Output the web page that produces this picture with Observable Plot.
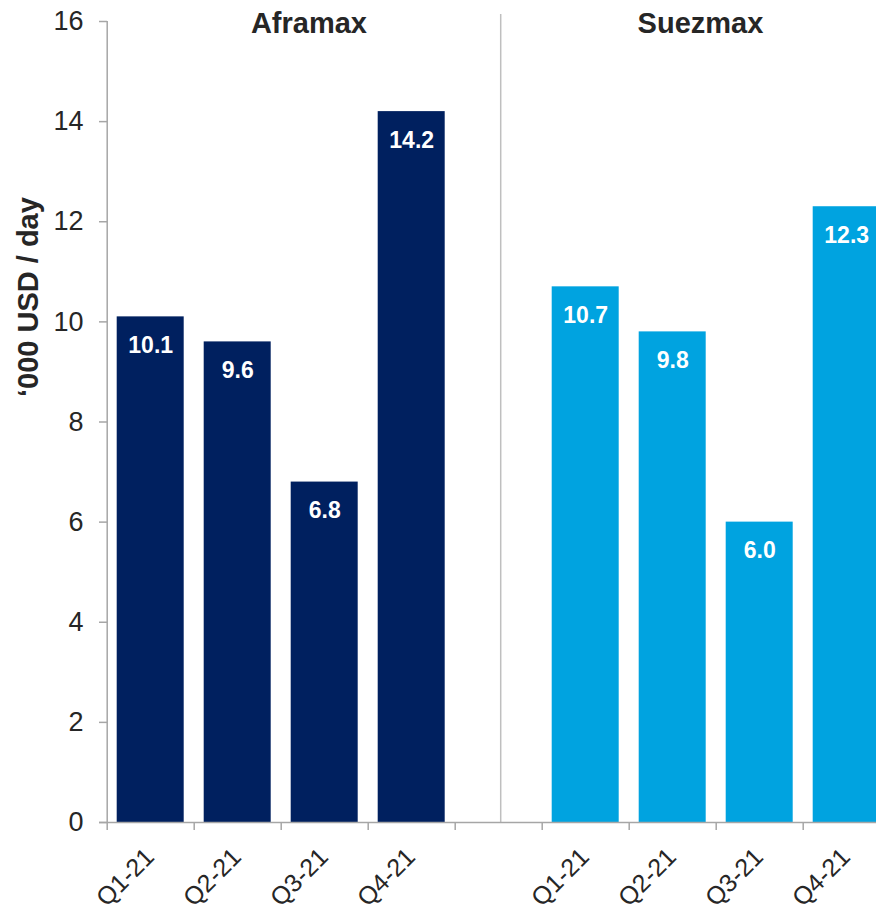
<!DOCTYPE html>
<html><head><meta charset="utf-8">
<script src="https://cdn.jsdelivr.net/npm/d3@7"></script>
<script src="https://cdn.jsdelivr.net/npm/@observablehq/plot@0.6"></script>
<style>
body{margin:0;background:#fff}
#chart svg{overflow:hidden;display:block}
#chart [aria-label="y-axis tick label"] text{fill:#262626}
</style></head><body><div id="chart"></div>
<script>
const vessels = ["Aframax", "Suezmax"];
const quarters = ["Q1-21", "Q2-21", "Q3-21", "Q4-21"];
const aframax = [10.1, 9.6, 6.8, 14.2];
const suezmax = [10.7, 9.8, 6.0, 12.3];
const yTicks = [0, 2, 4, 6, 8, 10, 12, 14, 16];
const yLabel = "‘000 USD / day";
const colors = ["#00205f", "#00a3e0"];

const series = [aframax, suezmax];
const perGroup = quarters.length + 1; // one empty slot between groups
const nSlots = vessels.length * perGroup - 1;
const rows = vessels.flatMap((v, g) => quarters.map((q, i) => ({
  vessel: v, quarter: q, value: series[g][i], slot: g * perGroup + i
})));
const dividers = vessels.slice(1).map((v, g) => (g + 1) * perGroup - 0.5);
const bounds = [0, ...dividers, nSlots];
const groups = vessels.map((v, g) => ({vessel: v, mid: (bounds[g] + bounds[g + 1]) / 2}));
const font = "Liberation Sans, Arial, Helvetica, sans-serif";

const chart = Plot.plot({
  width: 876,
  height: 911,
  marginTop: 21,
  marginBottom: 89,
  marginLeft: 107,
  marginRight: 0,
  style: {fontFamily: font, background: "#fff"},
  x: {type: "linear", domain: [0, nSlots], range: [106.7, 889.7], axis: null},
  y: {domain: [0, 16], axis: null},
  color: {domain: vessels, range: colors},
  marks: [
    Plot.rect(rows, {x1: "slot", x2: d => d.slot + 1, y1: 0, y2: "value", fill: "vessel", insetLeft: 10, insetRight: 10}),
    Plot.ruleX(dividers, {x: d => d, dx: 2, insetTop: -7, stroke: "#bfbfbf", strokeWidth: 1.5}),
    Plot.ruleX([0], {stroke: "#a6a6a6", strokeWidth: 1.5}),
    Plot.ruleY([0], {insetLeft: -8, stroke: "#a6a6a6", strokeWidth: 1.5}),
    Plot.axisY({ticks: yTicks, tickSize: 8, tickPadding: 16, fontSize: 27, label: null, stroke: "#a6a6a6", strokeWidth: 1.5}),
    Plot.axisX({ticks: d3.range(nSlots), tickSize: 8, tickFormat: () => "", label: null, stroke: "#a6a6a6", strokeWidth: 1.5}),
    Plot.text(rows, {x: d => d.slot + 0.5, y: "value", text: d => d.value.toFixed(1), dy: 36, lineAnchor: "bottom", fill: "white", fontWeight: "bold", fontSize: 23}),
    Plot.text(rows, {x: d => d.slot + 0.5, y: 0, text: "quarter", rotate: -45, textAnchor: "end", lineAnchor: "bottom", dx: 5, dy: 36, fill: "#262626", fontSize: 25}),
    Plot.text(groups, {x: "mid", y: 16, text: "vessel", dx: 6, dy: 11, lineAnchor: "bottom", fill: "#262626", fontWeight: "bold", fontSize: 29}),
    Plot.text([yLabel], {frameAnchor: "left", text: d => d, rotate: -90, dx: -70, dy: -25, lineAnchor: "bottom", fill: "#262626", fontWeight: "bold", fontSize: 29})
  ]
});
document.getElementById("chart").appendChild(chart);
</script></body></html>
